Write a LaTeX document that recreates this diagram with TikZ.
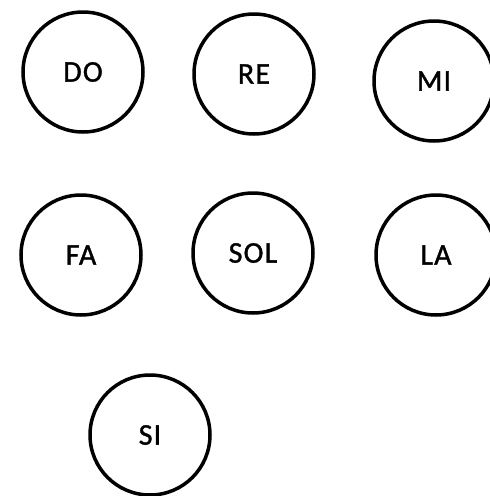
\documentclass[tikz,border=0pt]{standalone}
\usepackage{fontspec}
\setmainfont{Carlito}
\newfontfamily\notefont[LetterSpace=4,FakeBold=1.2]{Carlito}
\begin{document}
\begin{tikzpicture}[x=1pt,y=-1pt,
  note/.style={circle, draw=black, line width=3.5pt, minimum size=120pt, inner sep=0pt,
    font=\notefont\fontsize{30}{32}\selectfont}]
\clip (0,0) rectangle (490,496);
\fill[white] (0,0) rectangle (490,496);
\node[note] (do)  at (83,72)   {DO};
\node[note] (re)  at (254,74)  {RE};
\node[note] (mi)  at (434,81)  {MI};
\node[note] (fa)  at (81,255)  {FA};
\node[note] (sol) at (253,253) {SOL};
\node[note] (la)  at (436,255) {LA};
\node[note] (si)  at (150,435) {SI};
\end{tikzpicture}
\end{document}
